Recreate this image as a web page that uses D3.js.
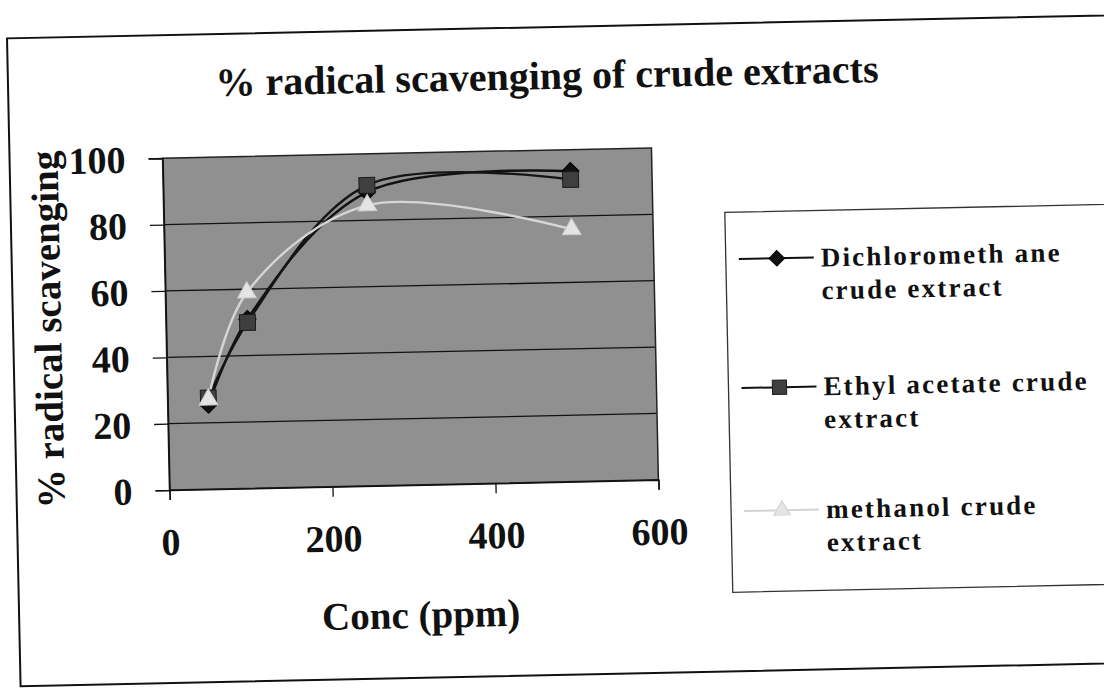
<!DOCTYPE html>
<html lang="en">
  <head>
    <meta charset="UTF-8" />
    <title>% radical scavenging of crude extracts</title>
    <script src="https://d3js.org/d3.v7.min.js"></script>
    <style>
      body {
        margin: 0;
        background: #fff;
        overflow: hidden;
      }
      svg text {
        font-family: "Liberation Serif", "Times New Roman", serif;
        font-weight: bold;
        fill: #111;
      }
    </style>
  </head>
  <body>
    <svg id="chart" width="1104" height="689"></svg>
    <script>
      // values
      const concentrations = [50, 100, 250, 500];
      const dichloromethane = [25.5, 51, 88.5, 93.5];
      const ethylAcetate = [27.5, 50, 90.5, 91];
      const methanol = [27, 59, 84.5, 76];
      const seriesNames = [
        ["Dichlorometh ane", "crude extract"],
        ["Ethyl acetate crude", "extract"],
        ["methanol crude", "extract"],
      ];
      const xTicks = [0, 200, 400, 600];
      const yTicks = [0, 20, 40, 60, 80, 100];

      const series = [
        { values: dichloromethane, line: "#111", fill: "#111", stroke: "#000", shape: d3.symbolSquare, size: 150, rot: 45 },
        { values: ethylAcetate, line: "#151515", fill: "#3f3f3f", stroke: "#1a1a1a", shape: d3.symbolSquare, size: 250, rot: 0 },
        { values: methanol, line: "#d6d6d6", fill: "#e4e4e4", stroke: "#d0d0d0", shape: d3.symbolTriangle, size: 150, rot: 0 },
      ];

      const svg = d3.select("#chart");
      // the scan is slightly tilted
      const page = svg.append("g").attr("transform", "rotate(-1.2, 410, 320)");

      // outer frame
      page.append("rect")
        .attr("x", 13).attr("y", 30)
        .attr("width", 1200).attr("height", 648)
        .attr("fill", "none").attr("stroke", "#111").attr("stroke-width", 2);

      page.append("text")
        .attr("x", 552).attr("y", 92)
        .attr("text-anchor", "middle")
        .attr("font-size", 40)
        .text("% radical scavenging of crude extracts");

      const plot = { left: 166, right: 655, top: 153, bottom: 485 };
      const x = d3.scaleLinear().domain([0, 600]).range([plot.left, plot.right]);
      const y = d3.scaleLinear().domain([0, 100]).range([plot.bottom, plot.top]);

      page.append("rect")
        .attr("x", plot.left).attr("y", plot.top)
        .attr("width", plot.right - plot.left).attr("height", plot.bottom - plot.top)
        .attr("fill", "#909090");

      // gridlines
      page.append("g")
        .selectAll("line")
        .data(yTicks.slice(1, -1))
        .join("line")
        .attr("x1", plot.left).attr("x2", plot.right)
        .attr("y1", (d) => y(d)).attr("y2", (d) => y(d))
        .attr("stroke", "#111").attr("stroke-width", 1.3);

      page.append("rect")
        .attr("x", plot.left).attr("y", plot.top)
        .attr("width", plot.right - plot.left).attr("height", plot.bottom - plot.top)
        .attr("fill", "none").attr("stroke", "#222").attr("stroke-width", 1.5);

      const yAxis = page.append("g")
        .attr("transform", `translate(${plot.left},0)`)
        .call(d3.axisLeft(y).tickValues(yTicks).tickSize(14).tickPadding(23));
      yAxis.selectAll("text").attr("font-size", 38).attr("dy", "0.35em");

      const xAxis = page.append("g")
        .attr("transform", `translate(0,${plot.bottom})`)
        .call(d3.axisBottom(x).tickValues(xTicks).tickSize(10).tickPadding(28));
      xAxis.selectAll("text").attr("font-size", 38);

      [yAxis, xAxis].forEach((a) => {
        a.select(".domain").attr("stroke", "#111").attr("stroke-width", 1.5);
        a.selectAll(".tick line").attr("stroke", "#111").attr("stroke-width", 1.3);
        a.selectAll("text").attr("font-family", "Liberation Serif, serif").attr("fill", "#111");
      });

      page.append("text")
        .attr("transform", "translate(61,322) rotate(-90)")
        .attr("text-anchor", "middle")
        .attr("font-size", 39)
        .text("% radical scavenging");

      page.append("text")
        .attr("x", 415).attr("y", 628)
        .attr("text-anchor", "middle")
        .attr("font-size", 39)
        .text("Conc (ppm)");

      // smoothed lines, like the spreadsheet's smoothing
      const line = d3.line()
        .x((d, i) => x(concentrations[i]))
        .y((d) => y(d))
        .curve(d3.curveCatmullRom.alpha(0.5));

      series.forEach((s) => {
        page.append("path")
          .attr("d", line(s.values))
          .attr("fill", "none")
          .attr("stroke", s.line)
          .attr("stroke-width", 2.4);
      });

      series.forEach((s) => {
        page.append("g")
          .selectAll("path")
          .data(s.values)
          .join("path")
          .attr("transform", (d, i) => `translate(${x(concentrations[i])},${y(d)}) rotate(${s.rot})`)
          .attr("d", d3.symbol(s.shape, s.size))
          .attr("fill", s.fill)
          .attr("stroke", s.stroke)
          .attr("stroke-width", 1);
      });

      // legend
      const legend = page.append("g");
      legend.append("rect")
        .attr("x", 727).attr("y", 219)
        .attr("width", 500).attr("height", 380)
        .attr("fill", "#fff").attr("stroke", "#333").attr("stroke-width", 1.3);

      const rowY = [266, 395, 518];
      series.forEach((s, i) => {
        const g = legend.append("g").attr("transform", `translate(0,${rowY[i]})`);
        g.append("line")
          .attr("x1", 740).attr("x2", 815)
          .attr("stroke", i === 2 ? "#d4d4d4" : "#111")
          .attr("stroke-width", 2);
        g.append("path")
          .attr("transform", `translate(778,0) rotate(${s.rot})`)
          .attr("d", d3.symbol(s.shape, s.size * 0.8))
          .attr("fill", s.fill)
          .attr("stroke", s.stroke);
        seriesNames[i].forEach((t, j) => {
          g.append("text")
            .attr("x", 822).attr("y", 9 + j * 33)
            .attr("font-size", 27)
            .attr("letter-spacing", 2.2)
            .text(t);
        });
      });
    </script>
  </body>
</html>
